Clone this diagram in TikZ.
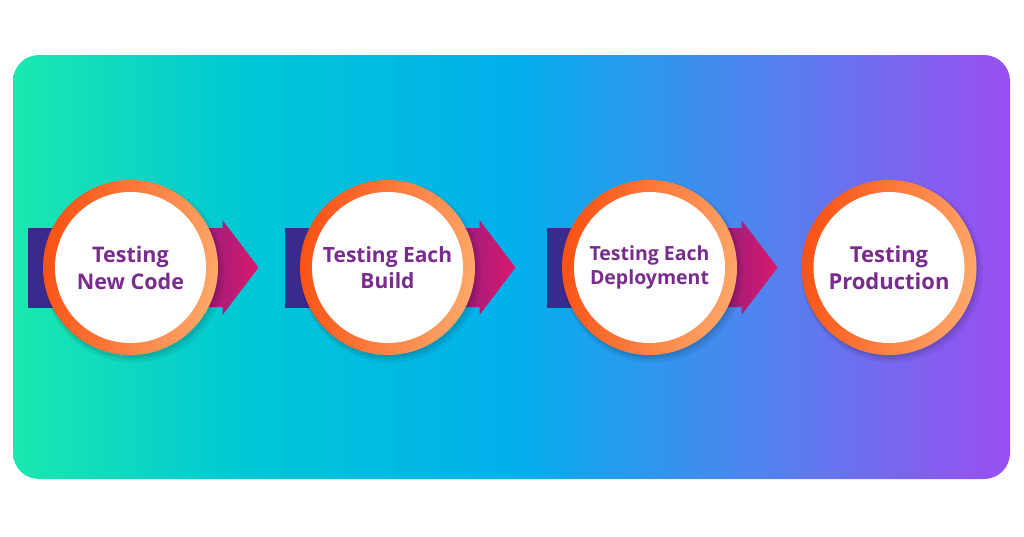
\documentclass[tikz,border=0pt]{standalone}
\usepackage{fontspec}
\setmainfont{Open Sans}
\definecolor{bgA}{HTML}{1BE8AE}
\definecolor{bgM}{HTML}{00C6D6}
\definecolor{bgB}{HTML}{02B0EC}
\definecolor{bgN}{HTML}{4E85EE}
\definecolor{bgC}{HTML}{9A4EF1}
\definecolor{ringA}{HTML}{FA5214}
\definecolor{ringB}{HTML}{FFA86A}
\definecolor{indigo}{HTML}{3A2A8D}
\definecolor{magA}{HTML}{8C1E82}
\definecolor{magB}{HTML}{DA196C}
\definecolor{txt}{HTML}{7A2C8E}
\pgfdeclarehorizontalshading{bgshade}{100bp}{color(0bp)=(bgA); color(25bp)=(bgA); color(37bp)=(bgM); color(50bp)=(bgB); color(62bp)=(bgN); color(75bp)=(bgC); color(100bp)=(bgC)}
\tikzset{
  panel/.style={shading=bgshade},
  backbar/.style={fill=indigo},
  fwdarrow/.style={left color=magA, right color=magB},
  ring/.style={left color=ringA, right color=ringB, shading angle=80},
  softshadow/.style={fill=black, opacity=0.06},
  stagenode/.style={circle, fill=white, minimum size=151pt, inner sep=0pt, text=txt, align=center}
}
\newcommand{\stagedraw}[6]{%
  \begin{scope}[shift={(#1,267.5)}]
    \ifnum#5=1
      \fill[backbar] (-103,-40) rectangle (0,40);
      \path[fwdarrow] (60,-39.5) -- (92,-39.5) -- (92,-47.5) -- (128,0) -- (92,47.5) -- (92,39.5) -- (60,39.5) -- cycle;
    \fi
    \fill[softshadow] (3,4) circle (91);
    \fill[softshadow] (2,3) circle (89);
    \fill[softshadow] (1,2) circle (88);
    \path[ring] (0,0) circle (87.5);
    \node[stagenode, font={\fontsize{#3}{#6}\selectfont\bfseries}] (#4) at (0,0) {#2};
  \end{scope}}
\begin{document}
\begin{tikzpicture}[x=1pt,y=-1pt]
\useasboundingbox (0,0) rectangle (1024,536);
\fill[white] (0,0) rectangle (1024,536);
\path[panel, rounded corners=26pt] (13,55) rectangle (1010,479);
\stagedraw{130.5}{Testing\\New Code}{21.5}{s1}{1}{27}
\stagedraw{387.5}{Testing Each\\Build}{21}{s2}{1}{25.5}
\stagedraw{649.5}{Testing Each\\Deployment}{19.5}{s3}{1}{24}
\stagedraw{889}{Testing\\Production}{22}{s4}{0}{27.5}
\end{tikzpicture}
\end{document}
